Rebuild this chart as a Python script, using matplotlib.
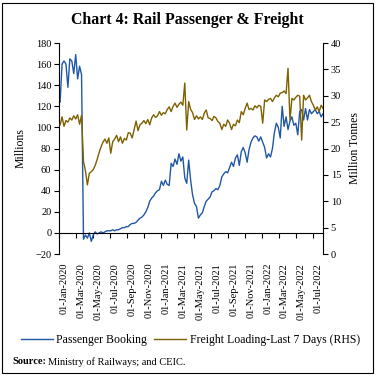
import numpy as np
import pandas as pd
import matplotlib
matplotlib.use('Agg')
import matplotlib.pyplot as plt
import matplotlib.dates as mdates
from matplotlib.transforms import ScaledTranslation
from matplotlib.patches import Rectangle

# Weekly observations, Jan 2020 - Aug 2022
week_dates = pd.date_range('2020-01-05', periods=136, freq='7D')

# Passenger booking (millions, LHS)
passenger = [
    124, 160, 163, 160, 138, 165, 163, 151, 169, 146, 158, 150,
    -6, -2, -5, 0, -8, -2, 1, -1, 0, 1, 0, 1, 2, 2, 2, 3, 2, 3, 3, 4,
    5, 5, 6, 6, 8, 9, 9, 10, 12, 14, 15, 17, 20, 24, 30, 33, 35, 38,
    40, 41, 49, 45, 50, 46, 45, 66, 63, 70, 65, 75, 68, 72, 52, 47,
    69, 50, 36, 28, 25, 14, 17, 19, 25, 30, 32, 34, 39, 40, 42, 41,
    45, 53, 56, 58, 57, 62, 67, 63, 71, 74, 64, 77, 81, 76, 67, 79,
    86, 90, 92, 91, 87, 91, 86, 81, 71, 75, 72, 80, 95, 104, 100, 90,
    120, 101, 110, 98, 106, 110, 102, 104, 93, 115, 117, 107, 118, 107,
    117, 113, 115, 117, 113, 115, 110, 113,
]

# Freight loading, last 7 days (million tonnes, RHS)
freight = [
    24.5, 26.0, 24.2, 25.3, 25.0, 25.8, 25.4, 26.2, 25.6, 26.4, 24.6, 26.3,
    17.5, 15.8, 13.1, 15.3, 15.6, 16.0, 16.8, 17.9, 19.2, 20.3, 21.2, 21.8,
    21.0, 22.0, 19.1, 21.3, 21.8, 22.5, 21.3, 22.2, 21.0, 21.9, 21.6, 23.0,
    22.9, 22.0, 23.6, 25.2, 23.4, 24.5, 24.8, 25.3, 24.7, 25.5, 24.5, 25.8,
    26.4, 25.9, 26.2, 27.0, 26.3, 26.8, 26.6, 27.4, 27.9, 27.0, 28.0, 28.6,
    27.8, 28.4, 28.8, 28.2, 32.4, 23.5, 28.9, 27.4, 26.8, 25.5, 26.2, 25.6,
    26.0, 25.5, 26.7, 27.3, 25.8, 25.7, 25.3, 26.1, 25.8, 25.1, 24.8, 23.6,
    24.6, 24.2, 25.4, 24.8, 23.6, 24.6, 24.3, 25.4, 24.9, 27.0, 26.4, 27.6,
    28.6, 27.4, 27.6, 27.3, 28.1, 27.7, 28.2, 28.0, 24.8, 29.2, 28.9, 29.3,
    29.5, 28.9, 29.6, 30.1, 29.8, 30.5, 30.6, 30.9, 30.4, 35.2, 25.4, 29.5,
    29.2, 29.7, 30.1, 29.9, 21.6, 30.1, 29.2, 29.6, 30.1, 28.9, 28.2, 27.3,
    27.9, 27.0, 28.2, 27.6,
]

tick_dates = pd.date_range('2020-01-01', '2022-07-01', freq='2MS')
left_ticks = list(range(-20, 181, 20))
right_ticks = list(range(0, 41, 5))

blue = '#2158A6'
brown = '#7F6000'

plt.rcParams['font.family'] = ['Liberation Serif', 'DejaVu Serif']

fig = plt.figure(figsize=(3.77, 3.79), dpi=100)
ax = fig.add_axes([0.1565, 0.3298, 0.7005, 0.5567])
ax2 = ax.twinx()

ax.plot(week_dates, passenger, color=blue, lw=1.0, label='Passenger Booking')
ax2.plot(week_dates, freight, color=brown, lw=1.0,
         label='Freight Loading-Last 7 Days (RHS)')

ax.set_ylim(-20, 180)
ax2.set_ylim(0, 40)
ax.set_yticks(left_ticks)
ax2.set_yticks(right_ticks)
ax.set_xlim(pd.Timestamp('2020-01-01'), week_dates[-1])

ax.set_xticks(tick_dates)
ax.xaxis.set_major_formatter(mdates.DateFormatter('%d-%b-%Y'))
ax.spines['bottom'].set_position(('data', 0))
for a in (ax, ax2):
    a.spines['top'].set_visible(False)
    for s in a.spines.values():
        s.set_linewidth(0.8)
ax2.spines['bottom'].set_visible(False)
ax2.spines['left'].set_visible(False)
ax.spines['right'].set_visible(False)

ax.tick_params(axis='x', direction='out', length=3.5, width=0.8, pad=18,
               labelsize=7.5, labelrotation=90)
ax.tick_params(axis='y', direction='out', length=3.5, width=0.8, pad=2,
               labelsize=7.5)
ax2.tick_params(axis='y', direction='out', length=3.5, width=0.8, pad=2,
                labelsize=7.5)

shift = ScaledTranslation(5.5 / 100, 0, fig.dpi_scale_trans)
for lbl in ax.get_xticklabels():
    lbl.set_horizontalalignment('center')
    lbl.set_transform(lbl.get_transform() + shift)

ax.set_ylabel('Millions', fontsize=8.5, labelpad=6)
ax2.set_ylabel('Million Tonnes', fontsize=8.5, labelpad=6)

fig.text(0.497, 0.947, 'Chart 4: Rail Passenger & Freight',
         ha='center', va='center', fontsize=11.4, fontweight='bold')

h1, l1 = ax.get_legend_handles_labels()
h2, l2 = ax2.get_legend_handles_labels()
fig.legend(h1 + h2, l1 + l2, loc='center', bbox_to_anchor=(0.505, 0.103),
           ncol=2, frameon=False, fontsize=8.5, handlelength=2.7,
           columnspacing=0.6, handletextpad=0.3)

fig.text(0.032, 0.045, 'Source:', fontsize=7.5, fontweight='bold',
         ha='left', va='center')
fig.text(0.128, 0.045, 'Ministry of Railways; and CEIC.', fontsize=7.5,
         ha='left', va='center')

fig.add_artist(Rectangle((2 / 377, 1 - 373 / 379), 371 / 377, 370 / 379,
                         transform=fig.transFigure, fill=False,
                         edgecolor='black', lw=0.8))

fig.savefig('out.png', dpi=100)
